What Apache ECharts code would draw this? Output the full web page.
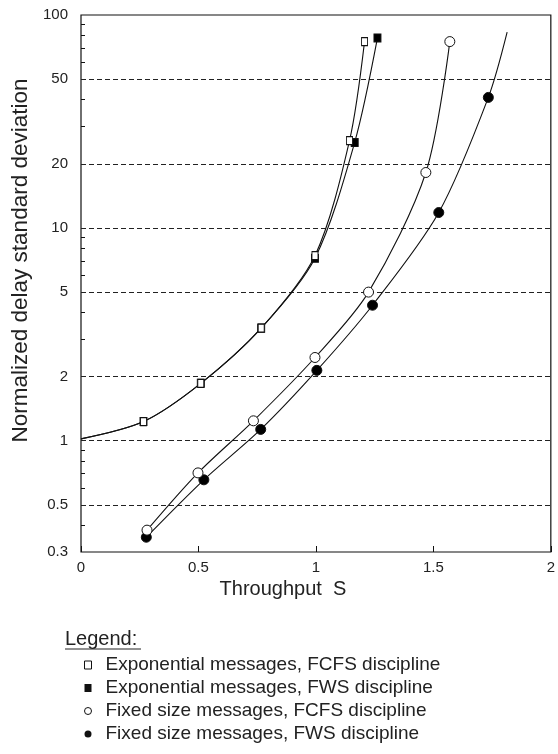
<!DOCTYPE html>
<html>
<head>
<meta charset="utf-8">
<script src="https://cdn.jsdelivr.net/npm/echarts@6/dist/echarts.min.js"></script>
<style>
	html, body { margin: 0; padding: 0; background: #fff; }
	#chart { width: 558px; height: 754px; }
</style>
</head>
<body>
<div id="chart"></div>
<script>
// throughput S / normalized delay std deviation
const expFcfsX = [0, 0.266, 0.51, 0.767, 0.996, 1.143, 1.207];
const expFcfsY = [1.02, 1.23, 1.86, 3.38, 7.4, 25.7, 75];
const expFwsX = [0, 0.266, 0.51, 0.767, 0.996, 1.165, 1.262];
const expFwsY = [1.02, 1.23, 1.86, 3.38, 7.2, 25.2, 78];
const fixFcfsX = [0.281, 0.498, 0.734, 0.996, 1.224, 1.468, 1.57];
const fixFcfsY = [0.38, 0.706, 1.24, 2.46, 4.99, 18.2, 75];
const fixFwsX = [0.278, 0.523, 0.765, 1.004, 1.241, 1.523, 1.734, 1.814];
const fixFwsY = [0.352, 0.655, 1.13, 2.14, 4.33, 11.8, 41, 83];

// points that are only line ends, without a marker
const expNoMark = [0];
const fixFwsNoMark = [7];

const seriesNames = [
	'Exponential messages, FCFS discipline',
	'Exponential messages, FWS discipline',
	'Fixed size messages, FCFS discipline',
	'Fixed size messages, FWS discipline'
];

const yLabels = [0.3, 0.5, 1, 2, 5, 10, 20, 50, 100];
const yGrid = [0.5, 1, 2, 5, 10, 20, 50];
const yMinor = [0.4, 0.6, 0.7, 0.8, 0.9, 3, 4, 6, 7, 8, 9, 30, 40, 60, 70, 80, 90];

const font = '"Liberation Sans", Arial, sans-serif';

const toPoints = function (xs, ys, noMark) {
	return xs.map(function (x, i) {
		if (noMark.indexOf(i) >= 0) {
			return { value: [x, ys[i]], symbol: 'none' };
		}
		return [x, ys[i]];
	});
};

const makeSeries = function (name, data, symbol, size, fill) {
	return {
		name: name,
		type: 'line',
		smooth: 0.3,
		data: data,
		symbol: symbol,
		symbolSize: size,
		showAllSymbol: true,
		z: fill === '#000' ? 3 : 4,
		lineStyle: { color: '#111', width: 1.1 },
		itemStyle: { color: fill, borderColor: '#111', borderWidth: 1 }
	};
};

const chart = echarts.init(document.getElementById('chart'));

chart.setOption({
	backgroundColor: '#fff',
	animation: false,
	grid: {
		left: 81, top: 15, right: 3, bottom: 202,
		show: true, borderColor: '#111', borderWidth: 1.2
	},
	xAxis: {
		type: 'value',
		min: 0, max: 2, interval: 0.5,
		name: 'Throughput  S',
		nameLocation: 'middle',
		nameGap: 27,
		nameTextStyle: { fontFamily: font, fontSize: 20, color: '#222', padding: [0, 66, 0, 0] },
		axisLine: { show: false },
		axisTick: { show: true, inside: true, length: 6, lineStyle: { color: '#111' } },
		axisLabel: { fontFamily: font, fontSize: 15, color: '#222', margin: 8 },
		splitLine: { show: false }
	},
	yAxis: [{
		type: 'log',
		min: 0.3, max: 100,
		name: 'Normalized delay standard deviation',
		nameLocation: 'middle',
		nameGap: 49,
		nameTextStyle: { fontFamily: font, fontSize: 22.5, color: '#222', padding: [0, 0, 0, 46] },
		axisLine: { show: false },
		axisTick: { show: true, inside: true, length: 4, customValues: yMinor, lineStyle: { color: '#111' } },
		axisLabel: { fontFamily: font, fontSize: 15, color: '#222', margin: 13, customValues: yLabels },
		splitLine: { show: false }
	}, {
		type: 'log',
		min: 0.3, max: 100,
		position: 'left',
		axisLine: { show: false },
		axisTick: { show: false, customValues: yGrid },
		axisLabel: { show: false, customValues: yGrid },
		splitLine: { show: true, lineStyle: { color: '#222', type: [5, 3], width: 1 } }
	}],
	legend: {
		orient: 'vertical',
		left: 79, top: 650,
		itemWidth: 7, itemHeight: 8,
		itemGap: 3,
		textStyle: { fontFamily: font, fontSize: 19, color: '#222', lineHeight: 20, padding: [0, 0, 0, 9] },
		data: [
			{ name: seriesNames[0], icon: 'rect', itemStyle: { color: '#fff', borderColor: '#111', borderWidth: 1 } },
			{ name: seriesNames[1], icon: 'rect', itemStyle: { color: '#111', borderWidth: 0 } },
			{ name: seriesNames[2], icon: 'circle', itemStyle: { color: '#fff', borderColor: '#111', borderWidth: 1 } },
			{ name: seriesNames[3], icon: 'circle', itemStyle: { color: '#111', borderWidth: 0 } }
		]
	},
	graphic: [{
		type: 'text',
		left: 65, top: 629,
		style: { text: 'Legend:', fontFamily: font, fontSize: 20, fill: '#222' }
	}, {
		type: 'line',
		shape: { x1: 65, y1: 649, x2: 141, y2: 649 },
		style: { stroke: '#222', lineWidth: 1 }
	}],
	series: [
		makeSeries(seriesNames[0], toPoints(expFcfsX, expFcfsY, expNoMark), 'rect', [6, 8], '#fff'),
		makeSeries(seriesNames[1], toPoints(expFwsX, expFwsY, expNoMark), 'rect', [7, 8], '#000'),
		makeSeries(seriesNames[2], toPoints(fixFcfsX, fixFcfsY, []), 'circle', 10, '#fff'),
		makeSeries(seriesNames[3], toPoints(fixFwsX, fixFwsY, fixFwsNoMark), 'circle', 10, '#000')
	]
});
</script>
</body>
</html>
